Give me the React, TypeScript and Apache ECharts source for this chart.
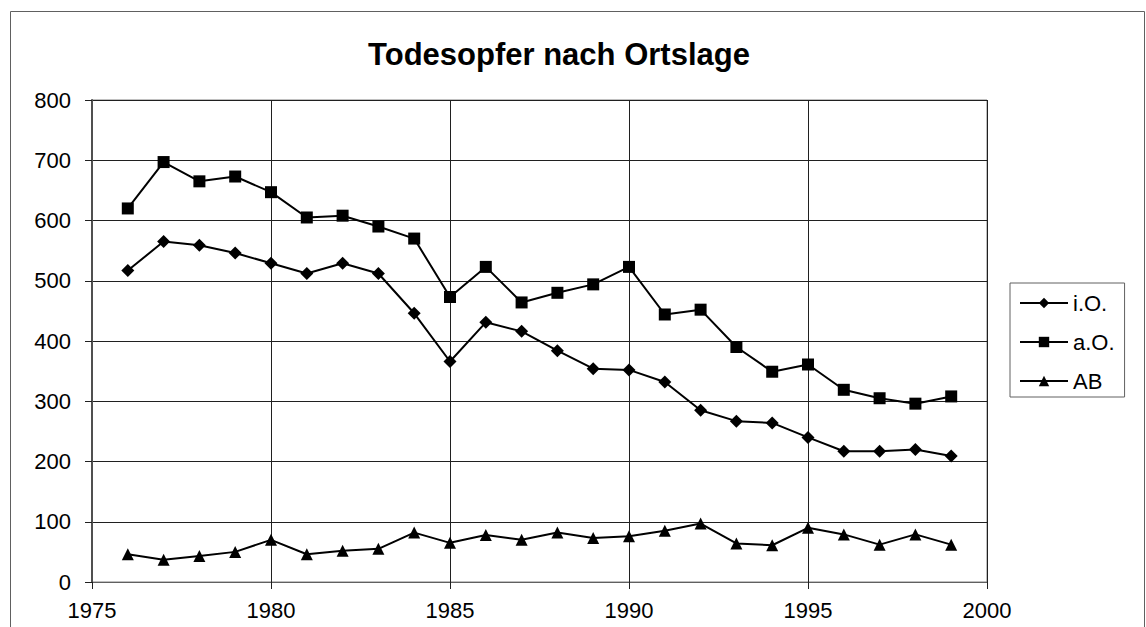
import React, { useEffect, useRef } from "react";
import * as echarts from "echarts";

const years = [1976, 1977, 1978, 1979, 1980, 1981, 1982, 1983, 1984, 1985, 1986, 1987, 1988, 1989, 1990, 1991, 1992, 1993, 1994, 1995, 1996, 1997, 1998, 1999];
const innerorts = [517, 565, 559, 546, 529, 512, 529, 512, 446, 366, 431, 416, 384, 354, 352, 332, 285, 267, 264, 240, 217, 217, 220, 209];
const ausserorts = [620, 697, 665, 673, 647, 605, 608, 590, 570, 473, 523, 464, 480, 494, 523, 444, 452, 390, 349, 361, 319, 305, 296, 308];
const autobahn = [46, 37, 43, 50, 70, 46, 52, 55, 82, 65, 78, 70, 82, 73, 76, 85, 97, 64, 61, 90, 79, 62, 79, 62];
const seriesNames = ["i.O.", "a.O.", "AB"];
const yTicks = [0, 100, 200, 300, 400, 500, 600, 700, 800];
const xTicks = [1975, 1980, 1985, 1990, 1995, 2000];

const FONT = "'Liberation Sans', Arial, sans-serif";

export default function App() {
  const ref = useRef<HTMLDivElement>(null);
  useEffect(() => {
    if (!ref.current) return;
    const chart = echarts.init(ref.current, undefined, { renderer: "svg" });
    const pairs = (vals: number[]) => years.map((y, i) => [y, vals[i]]);
    const mkSeries = (name: string, vals: number[], symbol: string, size: number) => ({
      name,
      type: "line",
      data: pairs(vals),
      symbol,
      symbolSize: size,
      lineStyle: { color: "#000", width: 2 },
      itemStyle: { color: "#000" },
      emphasis: { disabled: true },
    });
    chart.setOption({
      animation: false,
      backgroundColor: "#fff",
      textStyle: { fontFamily: FONT },
      title: {
        text: "Todesopfer nach Ortslage",
        left: 554,
        top: 34,
        textAlign: "center",
        textStyle: { fontFamily: FONT, fontWeight: "bold", fontSize: 31, color: "#000" },
      },
      graphic: [
        {
          type: "rect",
          shape: { x: 10.5, y: 11.5, width: 1134, height: 700 },
          style: { fill: "none", stroke: "#606060", lineWidth: 1 },
          silent: true,
        },
      ],
      legend: {
        orient: "vertical",
        left: 1010,
        top: 283,
        itemWidth: 48,
        itemHeight: 13,
        itemGap: 17,
        padding: [9, 10, 5, 9],
        borderColor: "#606060",
        borderWidth: 1,
        data: seriesNames,
        textStyle: { fontFamily: FONT, fontSize: 22, color: "#000" },
      },
      grid: {
        left: 92,
        top: 100,
        right: 1146 - 987,
        bottom: 627 - 582,
        show: true,
        borderColor: "#808080",
        borderWidth: 1,
        backgroundColor: "transparent",
      },
      xAxis: {
        type: "value",
        min: xTicks[0],
        max: xTicks[xTicks.length - 1],
        interval: 5,
        axisLine: { show: true, onZero: false, lineStyle: { color: "#606060", width: 1 } },
        axisTick: { show: true, length: 7, lineStyle: { color: "#202020" } },
        axisLabel: { color: "#000", fontSize: 22, fontFamily: FONT, margin: 17, formatter: (v: number) => String(v) },
        splitLine: { show: true, lineStyle: { color: "#202020", width: 1 } },
      },
      yAxis: {
        type: "value",
        min: yTicks[0],
        max: yTicks[yTicks.length - 1],
        interval: 100,
        axisLine: { show: true, lineStyle: { color: "#505050", width: 2 } },
        axisTick: { show: true, length: 7, lineStyle: { color: "#202020" } },
        axisLabel: { color: "#000", fontSize: 22, fontFamily: FONT, margin: 21 },
        splitLine: { show: true, lineStyle: { color: "#202020", width: 1 } },
      },
      series: [
        mkSeries(seriesNames[0], innerorts, "diamond", 13),
        mkSeries(seriesNames[1], ausserorts, "rect", 12),
        mkSeries(seriesNames[2], autobahn, "triangle", 12),
      ],
    });
    return () => chart.dispose();
  }, []);
  return (
    <div
      ref={ref}
      style={{ position: "absolute", left: 0, top: 0, width: 1146, height: 627 }}
    />
  );
}
